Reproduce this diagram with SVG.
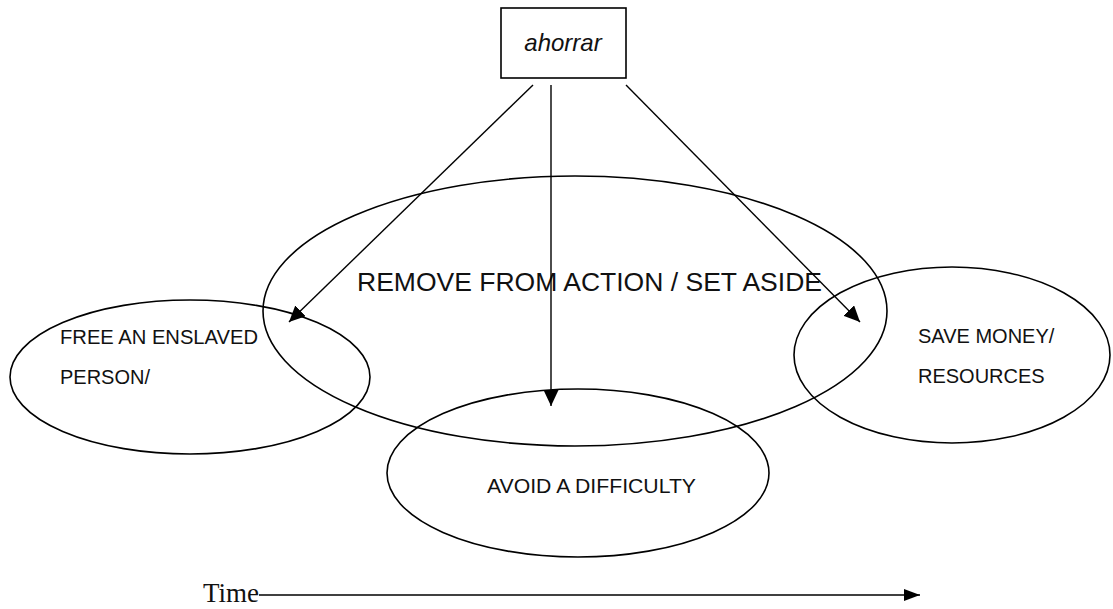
<svg xmlns="http://www.w3.org/2000/svg" width="1113" height="609" viewBox="0 0 1113 609">
<style>
.sh{fill:none;stroke:#000;stroke-width:1.6}
.ln{fill:none;stroke:#000;stroke-width:1.4}
.t{font-family:"Liberation Sans",Arial,sans-serif;fill:#111}
</style>
<defs>
<marker id="ah" viewBox="0 0 16 12" refX="16" refY="6" markerWidth="16" markerHeight="12" markerUnits="userSpaceOnUse" orient="auto">
<path d="M0,0 L16,6 L0,12 z" fill="#000"/>
</marker>
<marker id="ah2" viewBox="0 0 16 15" refX="16" refY="7.5" markerWidth="16" markerHeight="15" markerUnits="userSpaceOnUse" orient="auto">
<path d="M0,0 L16,7.5 L0,15 z" fill="#000"/>
</marker>
</defs>
<rect width="1113" height="609" fill="#fff"/>
<g id="node-ahorrar">
<rect x="501" y="8" width="125" height="70" class="sh"/>
<text x="563" y="51" class="t" font-size="24" font-style="italic" text-anchor="middle">ahorrar</text>
</g>
<g id="node-remove">
<ellipse cx="575" cy="311" rx="312" ry="135" class="sh"/>
<text x="357" y="291" class="t" font-size="26" textLength="465" lengthAdjust="spacingAndGlyphs">REMOVE FROM ACTION / SET ASIDE</text>
</g>
<g id="node-free">
<ellipse cx="190" cy="377" rx="180" ry="77" class="sh"/>
<text x="60" y="344" class="t" font-size="20" textLength="198" lengthAdjust="spacingAndGlyphs">FREE AN ENSLAVED</text>
<text x="60" y="384" class="t" font-size="20">PERSON/</text>
</g>
<g id="node-save">
<ellipse cx="952" cy="355" rx="158" ry="88" class="sh"/>
<text x="918" y="343" class="t" font-size="20">SAVE MONEY/</text>
<text x="918" y="383" class="t" font-size="20">RESOURCES</text>
</g>
<g id="node-avoid">
<ellipse cx="578" cy="473" rx="191" ry="84" class="sh"/>
<text x="487" y="493" class="t" font-size="20" textLength="209" lengthAdjust="spacingAndGlyphs">AVOID A DIFFICULTY</text>
</g>
<g id="time">
<text x="203" y="602" font-family="Liberation Serif,'Times New Roman',serif" font-size="27" fill="#111">Time</text>
</g>
<g id="connectors">
<line x1="259" y1="595" x2="920" y2="595" class="ln" stroke-width="1.6" marker-end="url(#ah)"/>
<line x1="533" y1="85" x2="289" y2="322" class="ln" marker-end="url(#ah2)"/>
<line x1="551" y1="85" x2="551" y2="406" class="ln" marker-end="url(#ah2)"/>
<line x1="626" y1="85" x2="860" y2="322" class="ln" marker-end="url(#ah2)"/>
</g>
</svg>
